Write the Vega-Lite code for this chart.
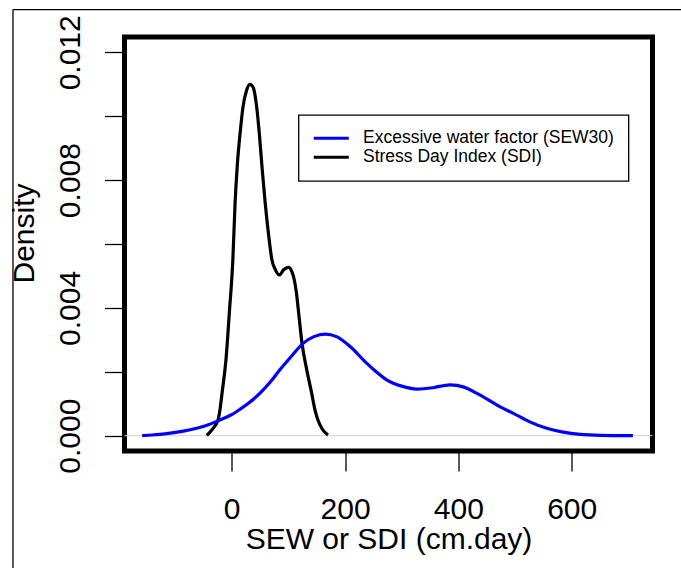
{
  "$schema": "https://vega.github.io/schema/vega-lite/v6.json",
  "width": 528,
  "height": 414,
  "autosize": {"type": "none"},
  "padding": {"left": 124.5, "top": 37, "right": 28.5, "bottom": 117},
  "background": "white",
  "config": {
    "view": {"stroke": "black", "strokeWidth": 5},
    "font": "Liberation Sans",
    "axis": {
      "domain": false,
      "grid": false,
      "tickColor": "black",
      "tickWidth": 1.3,
      "tickSize": 20,
      "labelFont": "Liberation Sans",
      "labelFontSize": 30,
      "labelColor": "black",
      "titleFont": "Liberation Sans",
      "titleFontSize": 30,
      "titleFontWeight": "normal",
      "titleColor": "black"
    },
    "legend": {"strokeWidth": 1.3}
  },
  "datasets": {
    "curves": [
      {"series": "Stress Day Index (SDI)", "x": -44, "density": 0.00001},
      {"series": "Stress Day Index (SDI)", "x": -40, "density": 0.00008},
      {"series": "Stress Day Index (SDI)", "x": -34, "density": 0.0002},
      {"series": "Stress Day Index (SDI)", "x": -28, "density": 0.00035},
      {"series": "Stress Day Index (SDI)", "x": -24, "density": 0.0005},
      {"series": "Stress Day Index (SDI)", "x": -20, "density": 0.0009},
      {"series": "Stress Day Index (SDI)", "x": -17, "density": 0.00134},
      {"series": "Stress Day Index (SDI)", "x": -10, "density": 0.0024},
      {"series": "Stress Day Index (SDI)", "x": -4, "density": 0.0039},
      {"series": "Stress Day Index (SDI)", "x": 2, "density": 0.0055},
      {"series": "Stress Day Index (SDI)", "x": 6, "density": 0.0073},
      {"series": "Stress Day Index (SDI)", "x": 10, "density": 0.0085},
      {"series": "Stress Day Index (SDI)", "x": 15, "density": 0.0095},
      {"series": "Stress Day Index (SDI)", "x": 20, "density": 0.0103},
      {"series": "Stress Day Index (SDI)", "x": 26, "density": 0.0108},
      {"series": "Stress Day Index (SDI)", "x": 32, "density": 0.011},
      {"series": "Stress Day Index (SDI)", "x": 38, "density": 0.0109},
      {"series": "Stress Day Index (SDI)", "x": 44, "density": 0.0103},
      {"series": "Stress Day Index (SDI)", "x": 49, "density": 0.0094},
      {"series": "Stress Day Index (SDI)", "x": 54, "density": 0.0083},
      {"series": "Stress Day Index (SDI)", "x": 59, "density": 0.0073},
      {"series": "Stress Day Index (SDI)", "x": 65, "density": 0.0063},
      {"series": "Stress Day Index (SDI)", "x": 71, "density": 0.0055},
      {"series": "Stress Day Index (SDI)", "x": 77, "density": 0.0052},
      {"series": "Stress Day Index (SDI)", "x": 84, "density": 0.00503},
      {"series": "Stress Day Index (SDI)", "x": 92, "density": 0.0052},
      {"series": "Stress Day Index (SDI)", "x": 100, "density": 0.00527},
      {"series": "Stress Day Index (SDI)", "x": 107, "density": 0.0051},
      {"series": "Stress Day Index (SDI)", "x": 114, "density": 0.0045},
      {"series": "Stress Day Index (SDI)", "x": 119, "density": 0.0037},
      {"series": "Stress Day Index (SDI)", "x": 124, "density": 0.0029},
      {"series": "Stress Day Index (SDI)", "x": 132, "density": 0.0021},
      {"series": "Stress Day Index (SDI)", "x": 141, "density": 0.00134},
      {"series": "Stress Day Index (SDI)", "x": 147, "density": 0.0008},
      {"series": "Stress Day Index (SDI)", "x": 152, "density": 0.0005},
      {"series": "Stress Day Index (SDI)", "x": 160, "density": 0.0002},
      {"series": "Stress Day Index (SDI)", "x": 170, "density": 0.00002},
      {"series": "Excessive water factor (SEW30)", "x": -158, "density": 0.0},
      {"series": "Excessive water factor (SEW30)", "x": -140, "density": 0.00002},
      {"series": "Excessive water factor (SEW30)", "x": -109, "density": 0.00008},
      {"series": "Excessive water factor (SEW30)", "x": -85, "density": 0.00014},
      {"series": "Excessive water factor (SEW30)", "x": -62, "density": 0.00023},
      {"series": "Excessive water factor (SEW30)", "x": -40, "density": 0.00035},
      {"series": "Excessive water factor (SEW30)", "x": -21, "density": 0.00049},
      {"series": "Excessive water factor (SEW30)", "x": 0, "density": 0.00066},
      {"series": "Excessive water factor (SEW30)", "x": 15, "density": 0.00083},
      {"series": "Excessive water factor (SEW30)", "x": 30, "density": 0.00102},
      {"series": "Excessive water factor (SEW30)", "x": 50, "density": 0.00133},
      {"series": "Excessive water factor (SEW30)", "x": 68, "density": 0.00168},
      {"series": "Excessive water factor (SEW30)", "x": 85, "density": 0.00206},
      {"series": "Excessive water factor (SEW30)", "x": 105, "density": 0.00248},
      {"series": "Excessive water factor (SEW30)", "x": 126, "density": 0.00289},
      {"series": "Excessive water factor (SEW30)", "x": 145, "density": 0.0031},
      {"series": "Excessive water factor (SEW30)", "x": 165, "density": 0.00318},
      {"series": "Excessive water factor (SEW30)", "x": 185, "density": 0.0031},
      {"series": "Excessive water factor (SEW30)", "x": 209, "density": 0.00279},
      {"series": "Excessive water factor (SEW30)", "x": 238, "density": 0.00227},
      {"series": "Excessive water factor (SEW30)", "x": 255, "density": 0.002},
      {"series": "Excessive water factor (SEW30)", "x": 274, "density": 0.00174},
      {"series": "Excessive water factor (SEW30)", "x": 300, "density": 0.00155},
      {"series": "Excessive water factor (SEW30)", "x": 327, "density": 0.00146},
      {"series": "Excessive water factor (SEW30)", "x": 355, "density": 0.0015},
      {"series": "Excessive water factor (SEW30)", "x": 385, "density": 0.00159},
      {"series": "Excessive water factor (SEW30)", "x": 410, "density": 0.00152},
      {"series": "Excessive water factor (SEW30)", "x": 432, "density": 0.00133},
      {"series": "Excessive water factor (SEW30)", "x": 455, "density": 0.0011},
      {"series": "Excessive water factor (SEW30)", "x": 473, "density": 0.00091},
      {"series": "Excessive water factor (SEW30)", "x": 497, "density": 0.0007},
      {"series": "Excessive water factor (SEW30)", "x": 525, "density": 0.00044},
      {"series": "Excessive water factor (SEW30)", "x": 556, "density": 0.00023},
      {"series": "Excessive water factor (SEW30)", "x": 585, "density": 0.00011},
      {"series": "Excessive water factor (SEW30)", "x": 615, "density": 0.00004},
      {"series": "Excessive water factor (SEW30)", "x": 650, "density": 0.00001},
      {"series": "Excessive water factor (SEW30)", "x": 708, "density": 0.0}
    ]
  },
  "layer": [
    {
      "data": {"values": [{}]},
      "mark": {"type": "rule", "color": "black", "strokeWidth": 1.3, "clip": false},
      "encoding": {
        "x": {"datum": -386, "type": "quantitative"},
        "y": {"datum": 0.01334, "type": "quantitative"},
        "y2": {"datum": -0.01}
      }
    },
    {
      "data": {"values": [{}]},
      "mark": {"type": "rule", "color": "black", "strokeWidth": 1.3, "clip": false},
      "encoding": {
        "y": {"datum": 0.01334, "type": "quantitative"},
        "x": {"datum": -386, "type": "quantitative"},
        "x2": {"datum": 830}
      }
    },
    {
      "data": {"values": [{}]},
      "mark": {"type": "rule", "color": "#d4d4d4", "strokeWidth": 1},
      "encoding": {"y": {"datum": 0, "type": "quantitative"}}
    },
    {
      "data": {"name": "curves"},
      "mark": {"type": "line", "interpolate": "monotone", "strokeWidth": 3.2},
      "encoding": {
        "x": {
          "field": "x",
          "type": "quantitative",
          "scale": {"domain": [-189.2, 742.6], "nice": false, "zero": false},
          "axis": {"values": [0, 200, 400, 600], "labelPadding": 23, "title": "SEW or SDI (cm.day)", "titleFontSize": 30, "titlePadding": 0}
        },
        "y": {
          "field": "density",
          "type": "quantitative",
          "scale": {"domain": [-0.00048, 0.01248], "nice": false, "zero": false},
          "axis": {
            "values": [0, 0.002, 0.004, 0.006, 0.008, 0.01, 0.012],
            "labelExpr": "round(datum.value * 1000) % 4 == 0 ? format(datum.value, '.3f') : ''",
            "labelAngle": -90,
            "labelAlign": "center",
            "labelBaseline": "bottom",
            "labelPadding": 19,
            "title": "Density",
            "titlePadding": 16,
            "titleY": 196
          }
        },
        "color": {
          "field": "series",
          "type": "nominal",
          "scale": {"domain": ["Excessive water factor (SEW30)", "Stress Day Index (SDI)"], "range": ["#0000ff", "#000000"]},
          "legend": {
            "title": null,
            "orient": "none",
            "legendX": 174,
            "legendY": 78,
            "strokeColor": "black",
            "fillColor": "white",
            "padding": 14.5,
            "symbolType": "M-3.5,0H3.5",
            "symbolSize": 100,
            "symbolStrokeWidth": 3,
            "symbolOffset": 9.5,
            "labelOffset": 23,
            "labelFontSize": 17.5,
            "labelLimit": 500,
            "labelFont": "Liberation Sans",
            "labelColor": "black",
            "rowPadding": 0
          }
        }
      }
    }
  ]
}
